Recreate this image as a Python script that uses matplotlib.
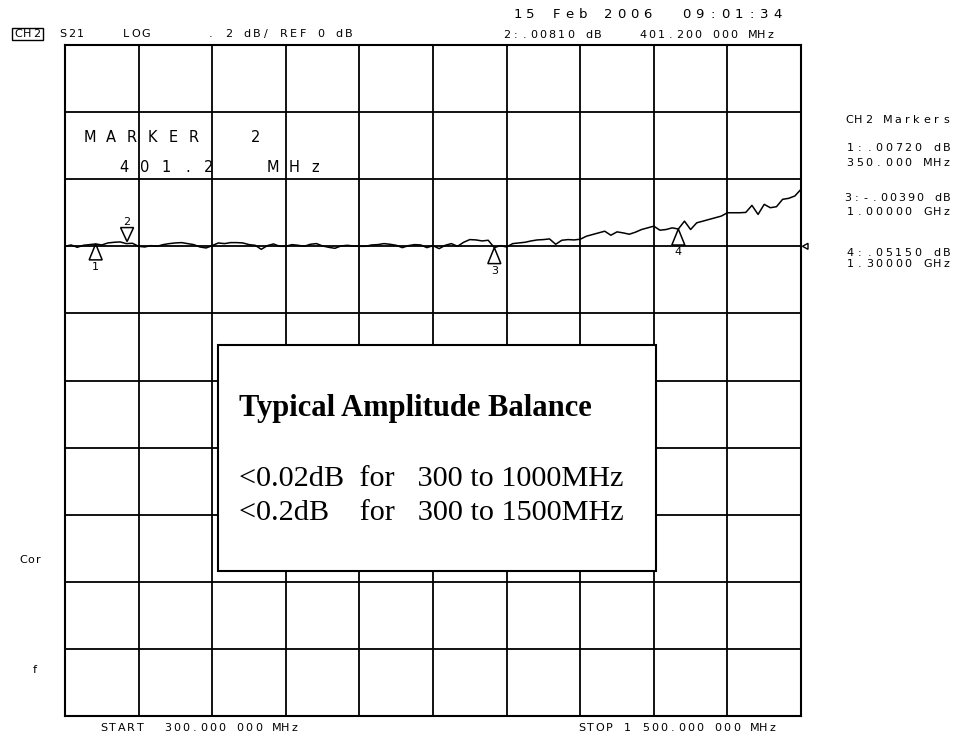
import matplotlib
matplotlib.use("Agg")
import matplotlib.pyplot as plt
from matplotlib.patches import Rectangle, Polygon
import numpy as np

# ---------------- data ----------------
freq_mhz = list(range(300, 1501, 10))
s21_db = [
    0.000, 0.004, -0.003, 0.003, 0.005, 0.007, 0.004, 0.010, 0.012, 0.013,
    0.008, 0.009, 0.000, -0.002, 0.002, 0.000, 0.005, 0.008, 0.010, 0.011,
    0.008, 0.005, -0.002, -0.005, 0.002, 0.010, 0.008, 0.011, 0.011, 0.010,
    0.005, 0.003, -0.009, 0.002, 0.007, 0.000, 0.000, 0.005, 0.003, 0.000,
    0.006, 0.008, 0.001, -0.003, -0.006, 0.001, 0.003, 0.001, 0.000, 0.000,
    0.004, 0.005, 0.008, 0.006, 0.003, -0.004, 0.002, 0.005, 0.004, -0.004,
    0.002, -0.007, 0.003, 0.008, 0.000, 0.012, 0.020, 0.019, 0.016, 0.018,
    -0.004, 0.002, -0.002, 0.008, 0.010, 0.012, 0.016, 0.019, 0.020, 0.022,
    0.006, 0.018, 0.020, 0.019, 0.021, 0.030, 0.035, 0.040, 0.045, 0.033,
    0.043, 0.040, 0.036, 0.042, 0.050, 0.055, 0.060, 0.048, 0.050, 0.055,
    0.0515, 0.075, 0.050, 0.070, 0.075, 0.080, 0.085, 0.090, 0.100, 0.100,
    0.100, 0.101, 0.122, 0.095, 0.125, 0.115, 0.118, 0.140, 0.143, 0.150,
    0.170,
]

marker_ids = ["1", "2", "3", "4"]
marker_freq = [350.0, 401.2, 1000.0, 1300.0]
marker_val = [0.0072, 0.0081, -0.0039, 0.0515]
marker_up = [True, False, True, True]   # True: triangle below trace pointing up

header_left = ["S21", "LOG", ". 2 dB/ REF 0 dB"]
date_text = "15 Feb 2006  09:01:34"
active_marker_text = "2:.00810 dB    401.200 000 MHz"
side_title = "CH2 Markers"
side_lines = ["1:.00720 dB", "350.000 MHz", "3:-.00390 dB", "1.00000 GHz",
              "4:.05150 dB", "1.30000 GHz"]
marker_title = "MARKER  2"
marker_freq_text = "401.2  MHz"
start_text = "START  300.000 000 MHz"
stop_text = "STOP 1 500.000 000 MHz"
box_title = "Typical Amplitude Balance"
box_lines = ["<0.02dB  for   300 to 1000MHz", "<0.2dB    for   300 to 1500MHz"]

ref_db = 0.0
db_per_div = 0.2
ref_div_from_top = 3
f_start, f_stop = 300.0, 1500.0

# ---------------- figure ----------------
W, H = 966, 739
fig = plt.figure(figsize=(W / 100, H / 100), dpi=100)
fig.patch.set_facecolor("white")

def fx(px):
    return px / W

def fy(py):
    return 1 - py / H

def mono(x, y, s, pitch, fs, z=5):
    """fixed-pitch instrument-style text; x = left edge of first cell (px)"""
    for i, c in enumerate(s):
        if c != " ":
            fig.text(fx(x + (i + 0.5) * pitch), fy(y), c, ha="center",
                     va="center", fontsize=fs, family="DejaVu Sans", zorder=z)

L, R, T, B = 65, 801, 45, 716
ax = fig.add_axes([fx(L), fy(B), fx(R) - fx(L), fy(T) - fy(B)])
ytop = ref_db + ref_div_from_top * db_per_div
ybot = ytop - 10 * db_per_div
ax.set_xlim(f_start, f_stop)
ax.set_ylim(ybot, ytop)
ax.set_xticks(np.linspace(f_start, f_stop, 11))
ax.set_yticks(np.linspace(ybot, ytop, 11))
ax.tick_params(length=0, labelbottom=False, labelleft=False)
ax.grid(True, color="black", lw=1.3)
for s in ax.spines.values():
    s.set_linewidth(1.5)
    s.set_color("black")
ax.set_axisbelow(True)

ax.plot(freq_mhz, s21_db, color="black", lw=1.1, zorder=3, clip_on=False)

# marker triangles
px_per_mhz = (R - L) / (f_stop - f_start)
px_per_db = (B - T) / (10 * db_per_div)
hw = 6.5 / px_per_mhz
hh = 16 / px_per_db
for mid, f, v, up in zip(marker_ids, marker_freq, marker_val, marker_up):
    if up:
        tri = Polygon([[f, v], [f - hw, v - hh], [f + hw, v - hh]], closed=True,
                      fill=False, ec="black", lw=1.1, zorder=4)
        ax.add_patch(tri)
        ax.text(f, v - hh - 2 / px_per_db, mid, ha="center", va="top",
                fontsize=8, family="DejaVu Sans", zorder=4)
    else:
        tri = Polygon([[f, v + 2 / px_per_db], [f - hw, v + hh], [f + hw, v + hh]],
                      closed=True, fill=False, ec="black", lw=1.1, zorder=4)
        ax.add_patch(tri)
        ax.text(f, v + hh + 1 / px_per_db, mid, ha="center", va="bottom",
                fontsize=8, family="DejaVu Sans", zorder=4)

# reference level pointer at right edge
ax.add_patch(Polygon([[f_stop + 1.5 / px_per_mhz, ref_db],
                      [f_stop + 7 / px_per_mhz, ref_db + 3 / px_per_db],
                      [f_stop + 7 / px_per_mhz, ref_db - 3 / px_per_db]],
                     closed=True, fill=False, ec="black", lw=1.0,
                     clip_on=False, zorder=4))

# MARKER 2 annotation inside grid
mono(80, 138, marker_title, 20.7, 10.5)
mono(113, 167, marker_freq_text, 21.3, 10.5)

# info box
box = Rectangle((fx(218), fy(571)), fx(656) - fx(218), fy(345) - fy(571),
                transform=fig.transFigure, facecolor="white", edgecolor="black",
                lw=1.5, zorder=10)
fig.add_artist(box)
fig.text(fx(239), fy(408), box_title, fontsize=22, family="Liberation Serif",
         weight="bold", va="center", ha="left", zorder=11)
fig.text(fx(239), fy(479), box_lines[0], fontsize=21.8, family="Liberation Serif",
         va="center", ha="left", zorder=11)
fig.text(fx(239), fy(513), box_lines[1], fontsize=21.8, family="Liberation Serif",
         va="center", ha="left", zorder=11)

# header
sf = 8
fig.add_artist(Rectangle((fx(12), fy(40)), fx(43) - fx(12), fy(28) - fy(40),
                         transform=fig.transFigure, fill=False, ec="black",
                         lw=1.0))
mono(14, 34, "CH2", 9.0, sf)
mono(59, 34, header_left[0], 8.5, sf)
mono(121, 34, header_left[1], 10.0, sf)
mono(206, 34, header_left[2], 9.2, sf)
mono(511, 15, date_text, 13.0, 9.5)
mono(502, 35, active_marker_text, 9.1, sf)

# side marker list
mono(844, 120, side_title, 9.7, sf)
side_y = [148, 163, 198, 212, 253, 264]
side_x = [845, 845, 843, 845, 845, 845]
side_p = [9.7, 9.7, 9.0, 9.7, 9.7, 9.7]
for t, xx, yy, pp in zip(side_lines, side_x, side_y, side_p):
    mono(xx, yy, t, pp, sf)

# left labels
mono(20, 560, "Cor", 7.5, sf)
mono(31, 670, "f", 7.5, sf)

# bottom labels
mono(99, 728, start_text, 9.1, sf)
mono(577, 728, stop_text, 9.1, sf)

fig.savefig("out.png", dpi=100, facecolor="white")
